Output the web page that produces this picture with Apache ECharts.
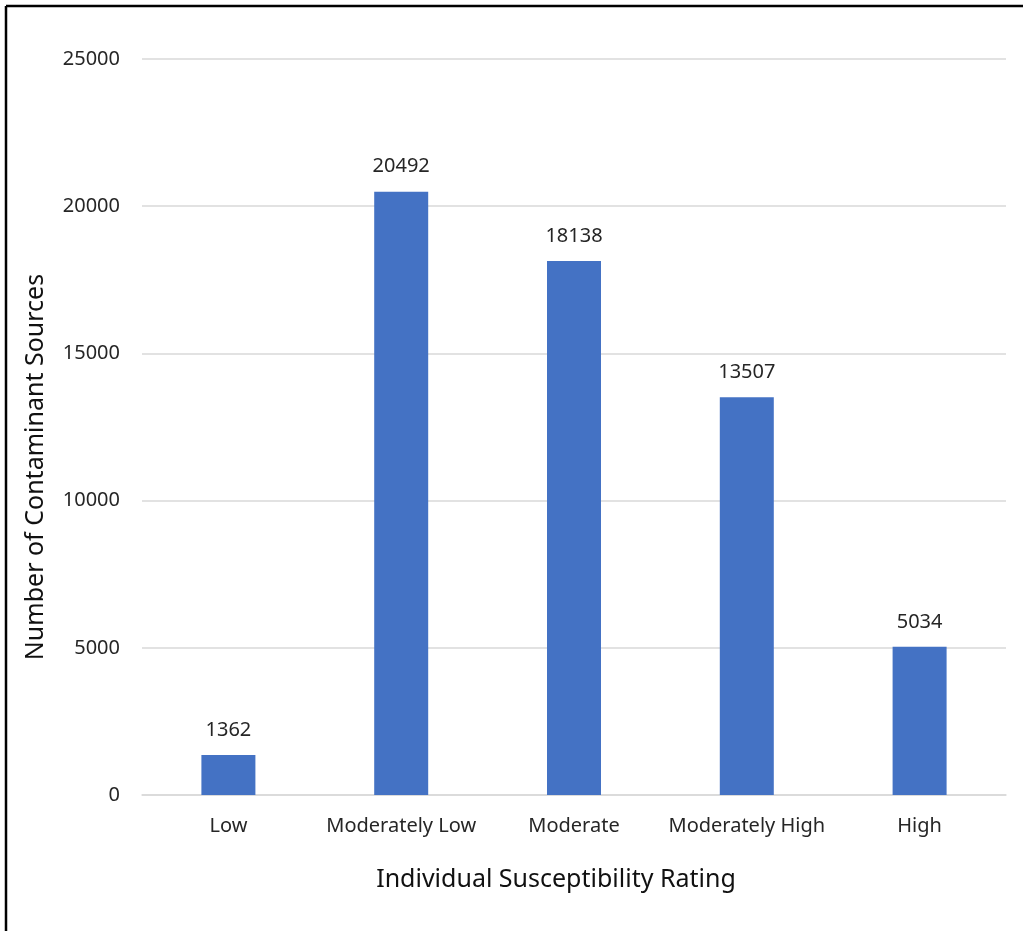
<!DOCTYPE html>
<html><head><meta charset="utf-8">
<script src="https://cdn.jsdelivr.net/npm/echarts@6/dist/echarts.min.js"></script>
<style>html,body{margin:0;padding:0;background:#fff}#c{width:1023px;height:931px}</style>
</head><body><div id="c"></div>
<script>
const categories = ['Low', 'Moderately Low', 'Moderate', 'Moderately High', 'High'];
const values = [1362, 20492, 18138, 13507, 5034];
const yTicks = [0, 5000, 10000, 15000, 20000, 25000];
const xTitle = 'Individual Susceptibility Rating';
const yTitle = 'Number of Contaminant Sources';

const font = 'Noto Sans';
const chart = echarts.init(document.getElementById('c'), null, {renderer: 'canvas'});
chart.setOption({
  animation: false,
  backgroundColor: '#fff',
  grid: {left: 142, right: 17, top: 59, bottom: 136, containLabel: false},
  xAxis: {
    type: 'category', data: categories,
    axisLine: {show: true, lineStyle: {color: '#d9d9d9', width: 1.5}},
    axisTick: {show: false},
    axisLabel: {interval: 0, fontFamily: font, fontSize: 20, color: '#262626', margin: 21}
  },
  yAxis: {
    type: 'value', min: yTicks[0], max: yTicks[yTicks.length - 1], interval: 5000,
    axisLine: {show: false}, axisTick: {show: false},
    axisLabel: {fontFamily: font, fontSize: 20, color: '#262626', margin: 22,
      formatter: v => String(v)},
    splitLine: {lineStyle: {color: '#d9d9d9', width: 1.5}}
  },
  series: [{
    type: 'bar', data: values, barWidth: 54,
    itemStyle: {color: '#4472C4'},
    label: {show: true, position: 'top', distance: 15, fontFamily: font, fontSize: 20, color: '#262626'}
  }],
  graphic: [
    {type: 'line', shape: {x1: 6, y1: 6, x2: 6, y2: 931}, style: {stroke: '#000', lineWidth: 2.5}},
    {type: 'line', shape: {x1: 6, y1: 6, x2: 1023, y2: 6}, style: {stroke: '#000', lineWidth: 2.5}},
    {type: 'text', x: 36, y: 467, rotation: Math.PI / 2,
      style: {text: yTitle, fontFamily: font, fontSize: 25, fill: '#111', align: 'center', verticalAlign: 'middle'}},
    {type: 'text', x: 556, y: 880,
      style: {text: xTitle, fontFamily: font, fontSize: 25, fill: '#111', align: 'center', verticalAlign: 'middle'}}
  ]
});
</script></body></html>
